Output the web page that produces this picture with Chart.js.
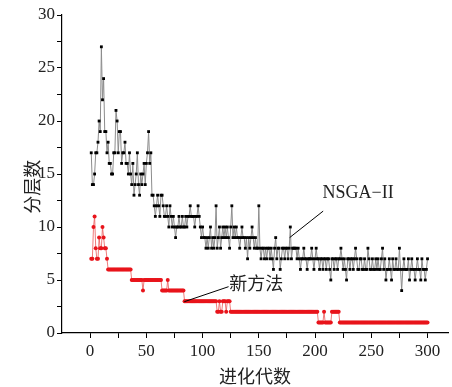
<!DOCTYPE html>
<html><head><meta charset="utf-8">
<script src="https://cdn.jsdelivr.net/npm/chart.js@4.4.1/dist/chart.umd.min.js"></script>
<style>html,body{margin:0;padding:0;background:#fff}#wrap{width:452px;height:387px;position:relative}</style>
</head><body><div id="wrap"><canvas id="c" width="452" height="387"></canvas></div>
<script>
const firstGeneration = 1;
const nsgaII = [
17,14,14,15,17,17,18,20,19,27,
22,24,19,19,17,18,16,16,15,15,
17,17,21,20,17,19,19,16,17,17,
18,16,16,15,17,15,14,16,13,14,
15,17,14,13,15,14,15,16,14,16,
17,19,16,17,13,13,12,11,12,13,
12,11,13,13,12,11,11,12,11,10,
12,11,10,11,10,9,10,10,11,10,
10,11,10,10,11,10,11,11,12,11,
11,11,10,11,11,12,11,10,9,10,
9,9,8,9,8,9,10,8,9,8,
9,12,8,9,10,8,9,10,9,10,
9,10,9,8,10,12,9,10,9,10,
9,9,8,9,10,9,9,8,9,7,
9,8,9,10,9,8,9,8,8,12,
8,7,8,8,7,8,7,8,8,7,
8,7,6,8,9,7,8,8,6,7,
8,8,7,8,8,7,8,10,7,8,
8,8,8,7,8,7,6,7,7,8,
7,7,6,7,7,7,8,7,6,7,
8,7,7,6,7,7,6,7,7,6,
7,7,6,5,7,7,6,7,7,6,
7,7,8,7,6,7,6,5,7,7,
6,7,7,6,7,8,7,6,6,7,
7,6,6,7,6,6,8,7,6,6,
7,6,6,7,6,7,6,6,7,8,
6,7,5,6,6,7,6,5,7,6,
6,7,6,6,8,6,4,6,7,6,
6,6,7,5,6,7,6,6,5,6,
7,6,6,5,7,6,6,5,6,7];
const newMethod = [
7,7,10,11,8,7,7,9,8,8,
10,9,8,8,7,6,6,6,6,6,
6,6,6,6,6,6,6,6,6,6,
6,6,6,6,6,6,5,5,5,5,
5,5,5,5,5,5,4,5,5,5,
5,5,5,5,5,5,5,5,5,5,
5,5,5,4,4,4,4,4,5,4,
4,4,4,4,4,4,4,4,4,4,
4,4,4,3,3,3,3,3,3,3,
3,3,3,3,3,3,3,3,3,3,
3,3,3,3,3,3,3,3,3,3,
3,3,2,2,3,2,2,3,3,3,
2,3,3,3,2,2,2,2,2,2,
2,2,2,2,2,2,2,2,2,2,
2,2,2,2,2,2,2,2,2,2,
2,2,2,2,2,2,2,2,2,2,
2,2,2,2,2,2,2,2,2,2,
2,2,2,2,2,2,2,2,2,2,
2,2,2,2,2,2,2,2,2,2,
2,2,2,2,2,2,2,2,2,2,
2,2,1,1,1,1,1,2,1,1,
1,1,1,1,2,2,2,2,2,2,
2,1,1,1,1,1,1,1,1,1,
1,1,1,1,1,1,1,1,1,1,
1,1,1,1,1,1,1,1,1,1,
1,1,1,1,1,1,1,1,1,1,
1,1,1,1,1,1,1,1,1,1,
1,1,1,1,1,1,1,1,1,1,
1,1,1,1,1,1,1,1,1,1,
1,1,1,1,1,1,1,1,1,1];
const xTicks = [0,25,50,75,100,125,150,175,200,225,250,275,300];
const yTicks = [0,2.5,5,7.5,10,12.5,15,17.5,20,22.5,25,27.5,30];
const seriesNames = ['NSGA\u2212II', '新方法'];
const axisTitles = {x:'进化代数', y:'分层数'};
// annotation anchors in data units
const notes = [
  {text: seriesNames[0], line:[177.4, 9.0, 207.2, 11.5], at:[206.6, 13.2], font:'18px "Liberation Serif"'},
  {text: seriesNames[1], line:[83.7, 2.95, 123.1, 4.37], at:[123.6, 4.7], font:'18px "Noto Sans CJK SC"'}
];
const yTitleAt = 13.8; // y-axis title centre, in data units

const toPoints = arr => arr.map((v,i)=>({x:firstGeneration+i, y:v}));
const serif = {family:'"Liberation Serif", "DejaVu Serif", serif', size:17};
const cjk = {family:'"Noto Sans CJK SC", sans-serif', size:18};

const notePlugin = {
  id:'notes',
  afterDatasetsDraw(chart){
    const {ctx, scales:{x,y}} = chart;
    ctx.save();
    notes.forEach(n=>{
      ctx.strokeStyle='#000'; ctx.lineWidth=1;
      ctx.beginPath();
      ctx.moveTo(x.getPixelForValue(n.line[0]), y.getPixelForValue(n.line[1]));
      ctx.lineTo(x.getPixelForValue(n.line[2]), y.getPixelForValue(n.line[3]));
      ctx.stroke();
      ctx.fillStyle='#222'; ctx.font=n.font; ctx.textAlign='left'; ctx.textBaseline='middle';
      ctx.fillText(n.text, x.getPixelForValue(n.at[0]), y.getPixelForValue(n.at[1]));
    });
    // y-axis title
    ctx.translate(32, y.getPixelForValue(yTitleAt));
    ctx.rotate(-Math.PI/2);
    ctx.font='18px "Noto Sans CJK SC"'; ctx.textAlign='center'; ctx.textBaseline='middle'; ctx.fillStyle='#222';
    ctx.fillText(axisTitles.y, 0, 0);
    ctx.restore();
  }
};

new Chart(document.getElementById('c'), {
  type:'line',
  data:{datasets:[
    {label:seriesNames[0], data:toPoints(nsgaII), borderColor:'#8c8c8c', borderWidth:1,
     pointStyle:'rect', pointRadius:2, pointBackgroundColor:'#000', pointBorderWidth:0, tension:0},
    {label:seriesNames[1], data:toPoints(newMethod), borderColor:'rgba(235,90,90,0.8)', borderWidth:1,
     pointStyle:'circle', pointRadius:2, pointBackgroundColor:'#e8141b', pointBorderWidth:0, tension:0}
  ]},
  options:{
    responsive:false, animation:false, devicePixelRatio:1,
    layout:{padding:{left:0,right:0,top:15,bottom:0}},
    plugins:{legend:{display:false}, tooltip:{enabled:false}},
    scales:{
      x:{type:'linear', min:-25, max:318.2,
        afterBuildTicks:s=>{s.ticks = xTicks.map(v=>({value:v}));},
        afterFit:s=>{s.height=54;},
        ticks:{callback:v=> v%50===0 ? String(v) : '', font:serif, color:'#222', maxRotation:0, autoSkip:false, padding:3},
        grid:{display:true, drawOnChartArea:false, drawTicks:true, tickLength:5, color:'#000', lineWidth:1},
        border:{display:true, color:'#000', width:1.2},
        title:{display:true, text:axisTitles.x, font:cjk, color:'#222', padding:{top:0,bottom:0}}
      },
      y:{type:'linear', min:0, max:30,
        afterBuildTicks:s=>{s.ticks = yTicks.map(v=>({value:v}));},
        afterFit:s=>{s.width=62;},
        ticks:{callback:v=> v%5===0 ? String(v) : '', font:serif, color:'#222', padding:2},
        grid:{display:true, drawOnChartArea:false, drawTicks:true, tickLength:5, color:'#000', lineWidth:1},
        border:{display:true, color:'#000', width:1.2},
        title:{display:false, text:axisTitles.y}
      }
    }
  },
  plugins:[notePlugin]
});
</script></body></html>
